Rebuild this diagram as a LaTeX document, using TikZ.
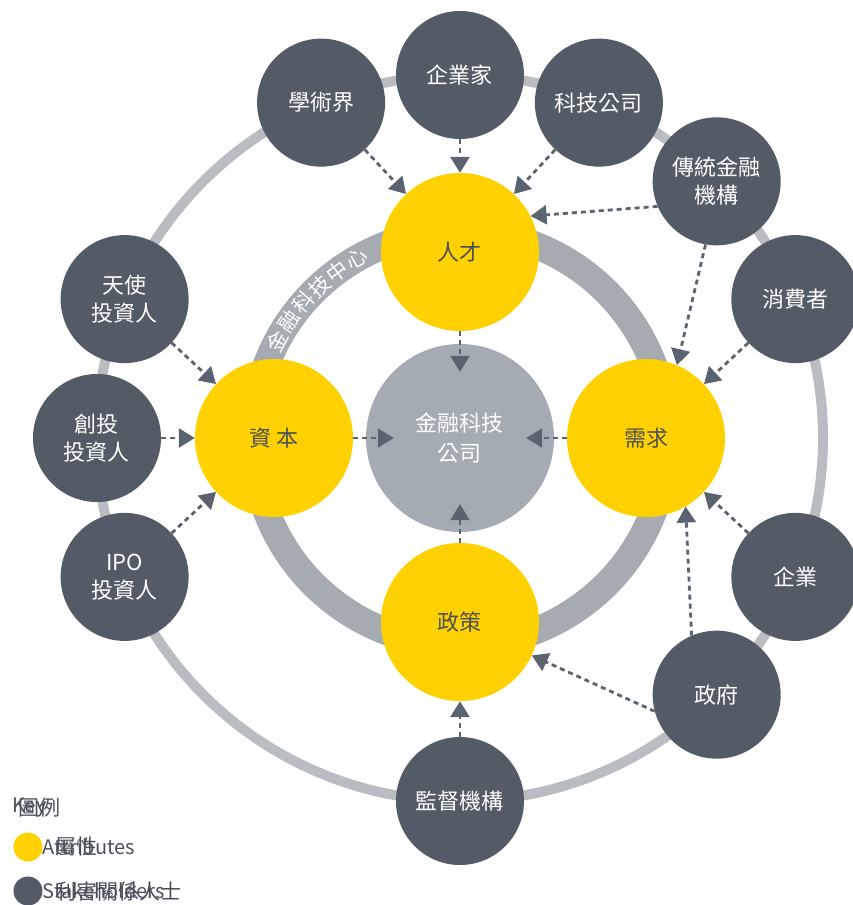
\documentclass[tikz,border=0pt]{standalone}
\usepackage{fontspec}
\setmainfont{Noto Sans CJK TC}
\usepackage{xcolor}
\usepackage{tikz}
\usetikzlibrary{arrows.meta, positioning}

\definecolor{attryellow}{HTML}{FFD100}
\definecolor{stakegray}{HTML}{535B66}
\definecolor{ringgray}{HTML}{A5ABB1}
\definecolor{outergray}{HTML}{B9BDC2}
\definecolor{hubgray}{HTML}{A5ABB2}
\definecolor{arrowgray}{HTML}{5B6370}
\definecolor{labelgray}{HTML}{4B5059}

\begin{document}
\begin{tikzpicture}[
            x=1pt, y=1pt,
            stake/.style={circle, fill=stakegray, minimum size=128pt, inner sep=0pt, align=center, text=white, font=\fontsize{22}{28}\selectfont},
            attr/.style={circle, fill=attryellow, minimum size=158pt, inner sep=0pt, align=center, text=labelgray, font=\fontsize{22}{28}\selectfont},
            hub/.style={circle, fill=hubgray, minimum size=188pt, inner sep=0pt, align=center, text=white, font=\fontsize{22}{30}\selectfont},
            arrow/.style={-{Triangle[length=16pt,width=19pt]}, line width=2.8pt, dash pattern=on 5pt off 4pt, draw=arrowgray},
            arctext/.style={text=white, inner sep=0pt, font=\fontsize{21}{21}\selectfont},
            keytext/.style={anchor=west, inner sep=0pt, text=labelgray}
        ]
            \useasboundingbox (-460,-467) rectangle (392,438);

            % --- RINGS ---
            \draw[outergray, line width=10pt] (0,0) circle (363);
            \draw[ringgray, line width=27pt] (0,0) circle (207);
            \foreach \ch [count=\i] in {金,融,科,技,中,心}
                \node[arctext, rotate={62-6.4*(\i-1)}] (arc\i) at ({152-6.4*(\i-1)}:207) {\ch};

            % --- CENTRE AND ATTRIBUTES ---
            \node[hub] (fintech) at (0,0) {金融科技\\公司};
            \node[attr] (talent) at (90:186) {人才};
            \node[attr] (capital) at (180:186) {資 本};
            \node[attr] (demand) at (0:186) {需求};
            \node[attr] (policy) at (270:184) {政策};

            % --- STAKEHOLDERS ---
            \node[stake] (entrepreneur) at (90:363) {企業家};
            \node[stake] (academia) at (112.5:363) {學術界};
            \node[stake] (techco) at (67.5:363) {科技公司};
            \node[stake] (tradfin) at (45:363) {傳統金融\\機構};
            \node[stake] (consumer) at (22.5:363) {消費者};
            \node[stake] (corporate) at (-22.5:363) {企業};
            \node[stake] (govt) at (-45:363) {政府};
            \node[stake] (regulator) at (-90:363) {監督機構};
            \node[stake] (ipo) at (202.5:363) {IPO\\投資人};
            \node[stake] (vc) at (180:363) {創投\\投資人};
            \node[stake] (angel) at (157.5:363) {天使\\投資人};

            % --- ARROWS INTO ATTRIBUTES ---
            \draw[arrow] (entrepreneur) -- (talent);
            \draw[arrow] (academia) -- (talent);
            \draw[arrow] (techco) -- (talent);
            \draw[arrow] (tradfin.203) -- (talent.27);
            \draw[arrow] (tradfin.260) -- (demand.67);
            \draw[arrow] (consumer) -- (demand);
            \draw[arrow] (corporate) -- (demand);
            \draw[arrow] (govt.113) -- (demand.300);
            \draw[arrow] (govt.195) -- (policy.335);
            \draw[arrow] (regulator) -- (policy);
            \draw[arrow] (angel) -- (capital);
            \draw[arrow] (vc) -- (capital);
            \draw[arrow] (ipo) -- (capital);

            % --- ARROWS INTO CENTRE ---
            \draw[arrow, shorten >=-28pt] (talent) -- (fintech);
            \draw[arrow, shorten >=-28pt] (capital) -- (fintech);
            \draw[arrow, shorten >=-28pt] (demand) -- (fintech);
            \draw[arrow, shorten >=-28pt] (policy) -- (fintech);

            % --- KEY ---
            \node[keytext, font=\fontsize{20}{20}\selectfont] (keyen) at (-448,-370) {Key};
            \node[keytext, font=\fontsize{21}{21}\selectfont] (keyzh) at (-442,-370) {圖例};
            \node[circle, fill=attryellow, minimum size=29pt, inner sep=0pt] (keyattr) at (-432,-409) {};
            \node[keytext, font=\fontsize{20}{20}\selectfont, right=0pt of keyattr] (attren) {Attributes};
            \node[keytext, font=\fontsize{21}{21}\selectfont] (attrzh) at (-405,-409) {屬性};
            \node[circle, fill=stakegray, minimum size=29pt, inner sep=0pt] (keystake) at (-432,-453) {};
            \node[keytext, font=\fontsize{20}{20}\selectfont, right=0pt of keystake] (stakeen) {Stakeholders};
            \node[keytext, font=\fontsize{21}{21}\selectfont] (stakezh) at (-405,-453) {利害關係人士};

        \end{tikzpicture}
\end{document}
